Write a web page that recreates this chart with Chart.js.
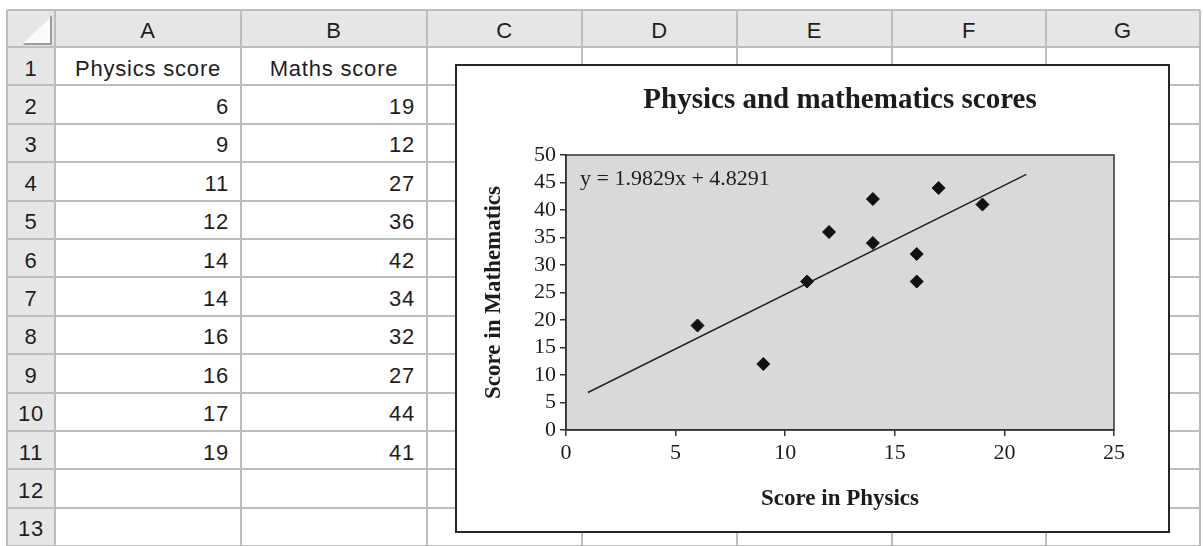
<!DOCTYPE html>
<html>
<head>
<meta charset="utf-8">
<title>Physics and mathematics scores</title>
<script src="https://cdn.jsdelivr.net/npm/chart.js@4/dist/chart.umd.min.js"></script>
<style>
    body {
        margin: 0;
        width: 1203px;
        height: 546px;
        overflow: hidden;
        position: relative;
        background: #fff;
        font-family: "Liberation Sans", Arial, sans-serif;
        color: #1e1e1e;
    }
    .hdr { position: absolute; background: #e6e6e6; }
    .vline, .hline { position: absolute; background: #bdbdbd; }
    .cell {
        position: absolute;
        display: flex;
        align-items: center;
        box-sizing: border-box;
        padding-top: 5px;
        font-size: 22px;
        letter-spacing: 0.8px;
        white-space: nowrap;
    }
    .center { justify-content: center; }
    .right { justify-content: flex-end; padding-right: 12px; }
    .corner-shade, .corner-tri { position: absolute; }
    .corner-shade { left: 23px; top: 15px; width: 29px; height: 30px; background: #9c9c9c; clip-path: polygon(100% 0, 100% 100%, 0 100%); }
    .corner-tri { left: 24px; top: 17px; width: 26px; height: 26px; background: #fbfbfb; clip-path: polygon(100% 0, 100% 100%, 0 100%); }
    #chartBox {
        position: absolute;
        left: 455px;
        top: 64px;
        width: 715px;
        height: 469px;
        box-sizing: border-box;
        border: 2px solid #262626;
        background: #fff;
    }
    #chartBox canvas { display: block; }
</style>
</head>
<body>
<div id="sheet"></div>
<div id="chartBox"><canvas id="scoreChart" width="711" height="465"></canvas></div>

<script>
// Data read from the sheet
const columnLetters = ['A', 'B', 'C', 'D', 'E', 'F', 'G'];
const physicsScores = [6, 9, 11, 12, 14, 14, 16, 16, 17, 19];
const mathsScores = [19, 12, 27, 36, 42, 34, 32, 27, 44, 41];
const xTicks = [0, 5, 10, 15, 20, 25];
const yTicks = [0, 5, 10, 15, 20, 25, 30, 35, 40, 45, 50];

// Linear trendline as shown by the chart label
const trendX = [1, 21];
const trendY = [6.81, 46.47];
const trendLabel = 'y = 1.9829x + 4.8291';

// Spreadsheet grid
const sheet = document.getElementById('sheet');
const colEdges = [7, 55, 241, 427, 582, 737, 892, 1046, 1200];
const rowEdges = [10, 47];
for (let i = 1; i <= 13; i++) rowEdges.push(47 + 38.4 * i);

function addDiv(cls, left, top, width, height, text) {
    const d = document.createElement('div');
    d.className = cls;
    if (left !== null) {
        d.style.left = left + 'px';
        d.style.top = top + 'px';
        d.style.width = width + 'px';
        d.style.height = height + 'px';
    }
    if (text !== undefined) d.textContent = text;
    sheet.appendChild(d);
    return d;
}

// header backgrounds
addDiv('hdr', colEdges[0], rowEdges[0], colEdges[8] - colEdges[0], rowEdges[1] - rowEdges[0]);
addDiv('hdr', colEdges[0], rowEdges[1], colEdges[1] - colEdges[0], rowEdges[14] - rowEdges[1]);
addDiv('corner-shade', null);
addDiv('corner-tri', null);

// grid lines
colEdges.forEach(x => addDiv('vline', x - 1, rowEdges[0], 2, 546 - rowEdges[0]));
rowEdges.forEach(y => addDiv('hline', colEdges[0], y - 1, colEdges[8] - colEdges[0], 2));

// column letters
columnLetters.forEach((letter, i) => {
    addDiv('cell center', colEdges[i + 1], rowEdges[0], colEdges[i + 2] - colEdges[i + 1], rowEdges[1] - rowEdges[0], letter);
});

// row numbers
for (let r = 1; r <= 13; r++) {
    addDiv('cell center', colEdges[0], rowEdges[r], colEdges[1] - colEdges[0], rowEdges[r + 1] - rowEdges[r], String(r));
}

// column headings and values
addDiv('cell center', colEdges[1], rowEdges[1], colEdges[2] - colEdges[1], rowEdges[2] - rowEdges[1], 'Physics score');
addDiv('cell center', colEdges[2], rowEdges[1], colEdges[3] - colEdges[2], rowEdges[2] - rowEdges[1], 'Maths score');
physicsScores.forEach((v, i) => {
    const r = i + 2;
    addDiv('cell right', colEdges[1], rowEdges[r], colEdges[2] - colEdges[1], rowEdges[r + 1] - rowEdges[r], String(v));
    addDiv('cell right', colEdges[2], rowEdges[r], colEdges[3] - colEdges[2], rowEdges[r + 1] - rowEdges[r], String(mathsScores[i]));
});

// Chart
const serif = "'Liberation Serif', 'Times New Roman', serif";
const inkColor = '#1c1c1c';
const axisColor = '#333333';

// grey plot area with a frame, plus the trendline equation
const plotFrame = {
    id: 'plotFrame',
    beforeDraw(chart) {
        const { ctx, chartArea: a } = chart;
        ctx.save();
        ctx.fillStyle = '#d9d9d9';
        ctx.fillRect(a.left, a.top, a.right - a.left, a.bottom - a.top);
        ctx.restore();
    },
    afterDraw(chart) {
        const { ctx, chartArea: a } = chart;
        ctx.save();
        ctx.strokeStyle = axisColor;
        ctx.lineWidth = 1.5;
        ctx.strokeRect(a.left, a.top, a.right - a.left, a.bottom - a.top);
        ctx.fillStyle = inkColor;
        ctx.font = '22px ' + serif;
        ctx.textBaseline = 'middle';
        ctx.textAlign = 'left';
        ctx.fillText(trendLabel, a.left + 14, a.top + 24);
        ctx.restore();
    }
};

const scorePoints = physicsScores.map((x, i) => ({ x: x, y: mathsScores[i] }));
const trendPoints = trendX.map((x, i) => ({ x: x, y: trendY[i] }));

new Chart(document.getElementById('scoreChart'), {
    type: 'scatter',
    data: {
        datasets: [
            {
                label: 'Scores',
                data: scorePoints,
                pointStyle: 'rectRot',
                pointRadius: 6.5,
                pointBackgroundColor: '#111',
                pointBorderColor: '#111',
                pointBorderWidth: 1
            },
            {
                label: 'Linear trend',
                type: 'line',
                data: trendPoints,
                showLine: true,
                borderColor: '#222',
                borderWidth: 1.5,
                pointRadius: 0,
                fill: false
            }
        ]
    },
    options: {
        responsive: false,
        animation: false,
        layout: {
            padding: { left: 0, right: 54, top: 0, bottom: 0 }
        },
        plugins: {
            legend: { display: false },
            tooltip: { enabled: false },
            title: {
                display: true,
                text: 'Physics and mathematics scores',
                fullSize: false,
                color: inkColor,
                font: { family: serif, size: 29, weight: 'bold' },
                padding: { top: 17, bottom: 37.2 }
            }
        },
        scales: {
            x: {
                type: 'linear',
                min: 0,
                max: 25,
                afterBuildTicks: axis => { axis.ticks = xTicks.map(v => ({ value: v })); },
                afterFit: axis => { axis.height = 101; },
                grid: { drawOnChartArea: false, drawTicks: true, tickLength: 6, color: axisColor, lineWidth: 1.5 },
                border: { display: true, color: axisColor, width: 1.5 },
                ticks: { color: inkColor, padding: 4, maxRotation: 0, autoSkip: false, font: { family: serif, size: 22 } },
                title: {
                    display: true,
                    text: 'Score in Physics',
                    color: inkColor,
                    font: { family: serif, size: 23, weight: 'bold' },
                    padding: { top: 0, bottom: 18 }
                }
            },
            y: {
                type: 'linear',
                min: 0,
                max: 50,
                afterBuildTicks: axis => { axis.ticks = yTicks.map(v => ({ value: v })); },
                afterFit: axis => { axis.width = 109; },
                grid: { drawOnChartArea: false, drawTicks: true, tickLength: 6, color: axisColor, lineWidth: 1.5 },
                border: { display: true, color: axisColor, width: 1.5 },
                ticks: { color: inkColor, padding: 4, autoSkip: false, font: { family: serif, size: 22 } },
                title: {
                    display: true,
                    text: 'Score in Mathematics',
                    color: inkColor,
                    font: { family: serif, size: 23, weight: 'bold' },
                    padding: { top: 23, bottom: 0 }
                }
            }
        }
    },
    plugins: [plotFrame]
});
</script>
</body>
</html>
